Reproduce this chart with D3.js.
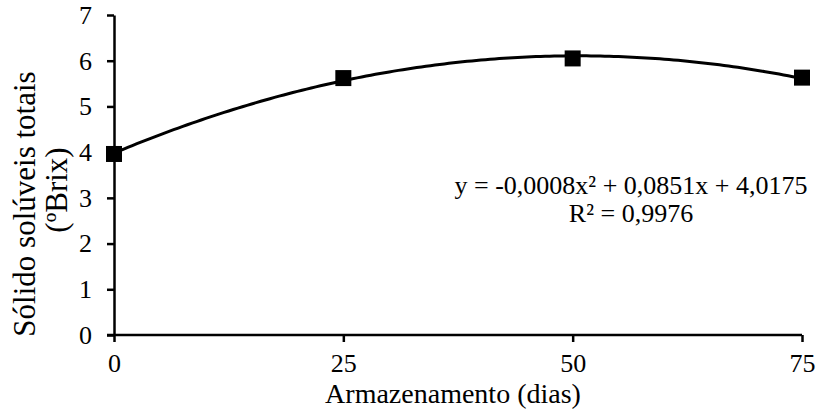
<!DOCTYPE html>
<html>
<head>
<meta charset="utf-8">
<script src="https://cdn.jsdelivr.net/npm/d3@7"></script>
<style>
  html, body { margin: 0; padding: 0; background: #fff; }
</style>
</head>
<body>
<svg id="chart" width="816" height="409"></svg>
<script>
// Storage time (days) and total soluble solids (°Brix)
const days = [0, 25, 50, 75];
const brix = [3.96, 5.62, 6.05, 5.63];
const xTicks = [0, 25, 50, 75];
const yTicks = [0, 1, 2, 3, 4, 5, 6, 7];
const equationLines = ["y = -0,0008x² + 0,0851x + 4,0175", "R² = 0,9976"];

const FONT = "'Liberation Serif', 'Times New Roman', serif";
const svg = d3.select("#chart");
const margin = { left: 114, right: 14, top: 15, bottom: 74 };
const W = 816, H = 409;

const x = d3.scaleLinear().domain([0, 75]).range([margin.left, W - margin.right]);
const y = d3.scaleLinear().domain([0, 7]).range([H - margin.bottom, margin.top]);

// Least-squares quadratic through the observations
function fitQuadratic(xs, ys) {
  const n = xs.length;
  const s = [0, 0, 0, 0, 0], t = [0, 0, 0];
  for (let i = 0; i < n; i++) {
    for (let k = 0; k <= 4; k++) s[k] += Math.pow(xs[i], k);
    for (let k = 0; k <= 2; k++) t[k] += ys[i] * Math.pow(xs[i], k);
  }
  const A = [[s[0], s[1], s[2], t[0]], [s[1], s[2], s[3], t[1]], [s[2], s[3], s[4], t[2]]];
  for (let c = 0; c < 3; c++) {
    for (let r = c + 1; r < 3; r++) {
      const f = A[r][c] / A[c][c];
      for (let k = c; k < 4; k++) A[r][k] -= f * A[c][k];
    }
  }
  const b = [0, 0, 0];
  for (let r = 2; r >= 0; r--) {
    let v = A[r][3];
    for (let k = r + 1; k < 3; k++) v -= A[r][k] * b[k];
    b[r] = v / A[r][r];
  }
  return xv => b[0] + b[1] * xv + b[2] * xv * xv;
}
const trend = fitQuadratic(days, brix);
const curvePts = d3.range(0, 75.01, 0.5).map(v => [v, trend(v)]);

// Axes
const xAxis = d3.axisBottom(x).tickValues(xTicks).tickFormat(d3.format("d"))
  .tickSize(7).tickSizeOuter(0).tickPadding(12);
const yAxis = d3.axisLeft(y).tickValues(yTicks).tickFormat(d3.format("d"))
  .tickSize(7).tickSizeOuter(0).tickPadding(15);

const gx = svg.append("g").attr("transform", `translate(0,${y(0)})`).call(xAxis);
const gy = svg.append("g").attr("transform", `translate(${x(0)},0)`).call(yAxis);
[gx, gy].forEach(g => {
  g.attr("font-family", null).attr("font-size", null);
  g.select(".domain").attr("stroke", "#000").attr("stroke-width", 2.5);
  g.selectAll(".tick line").attr("stroke", "#000").attr("stroke-width", 2.5);
  g.selectAll(".tick text")
    .style("font-family", FONT)
    .style("font-size", "26px")
    .attr("fill", "#000");
});
gx.select(".domain").attr("d", `M${x(0) - 7},0H${x(75)}`);

// Trend curve
svg.append("path")
  .datum(curvePts)
  .attr("fill", "none")
  .attr("stroke", "#000")
  .attr("stroke-width", 3)
  .attr("d", d3.line().x(d => x(d[0])).y(d => y(d[1])));

// Observed means
const size = 16;
svg.selectAll("rect.pt")
  .data(days.map((d, i) => ({ d, v: brix[i] })))
  .enter().append("rect")
  .attr("class", "pt")
  .attr("x", p => x(p.d) - size / 2)
  .attr("y", p => y(p.v) - size / 2)
  .attr("width", size)
  .attr("height", size)
  .attr("fill", "#000");

// Axis titles
svg.append("text")
  .attr("x", 453)
  .attr("y", 403)
  .attr("text-anchor", "middle")
  .style("font-family", FONT)
  .style("font-size", "28px")
  .attr("fill", "#000")
  .text("Armazenamento (dias)");

const yt = svg.append("text")
  .attr("transform", `translate(0,204) rotate(-90)`)
  .attr("text-anchor", "middle")
  .style("font-family", FONT)
  .style("font-size", "31px")
  .attr("fill", "#000");
yt.append("tspan").attr("x", 0).attr("y", 35).text("Sólido solúveis totais");
yt.append("tspan").attr("x", 14).attr("y", 67).text("(ºBrix)");

// Regression equation
const eq = svg.append("text")
  .attr("text-anchor", "middle")
  .style("font-family", FONT)
  .style("font-size", "26px")
  .attr("fill", "#000");
equationLines.forEach((line, i) => {
  eq.append("tspan").attr("x", 631).attr("y", 194 + i * 28).text(line);
});
</script>
</body>
</html>
